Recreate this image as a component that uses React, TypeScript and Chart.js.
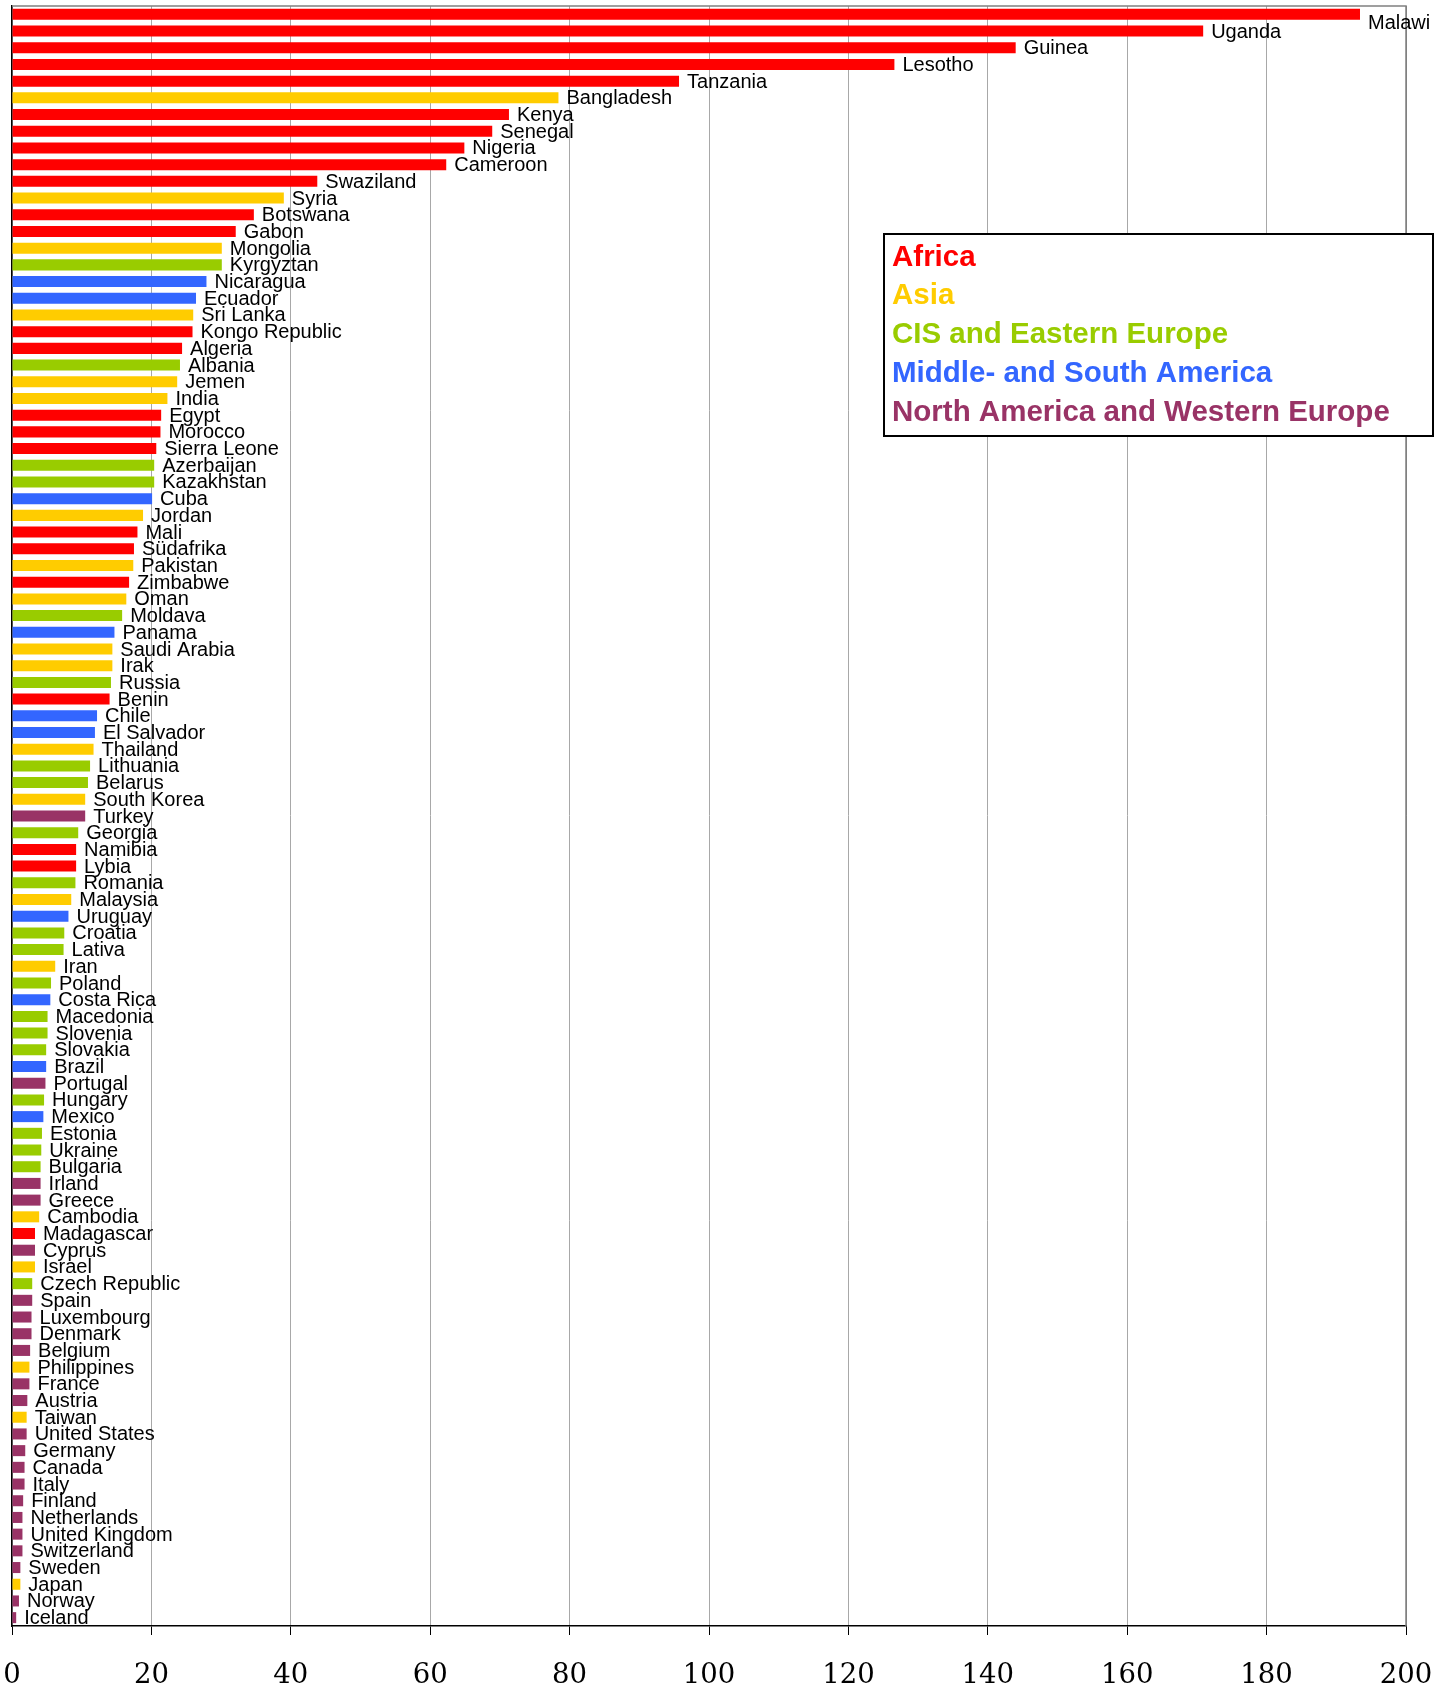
import React, { useEffect, useRef } from 'react';
import { Chart, registerables } from 'chart.js';
Chart.register(...registerables);

const countries = [
  'Malawi', 'Uganda', 'Guinea', 'Lesotho', 'Tanzania', 'Bangladesh', 'Kenya', 'Senegal', 'Nigeria', 'Cameroon',
  'Swaziland', 'Syria', 'Botswana', 'Gabon', 'Mongolia', 'Kyrgyztan', 'Nicaragua', 'Ecuador', 'Sri Lanka', 'Kongo Republic',
  'Algeria', 'Albania', 'Jemen', 'India', 'Egypt', 'Morocco', 'Sierra Leone', 'Azerbaijan', 'Kazakhstan', 'Cuba',
  'Jordan', 'Mali', 'Südafrika', 'Pakistan', 'Zimbabwe', 'Oman', 'Moldava', 'Panama', 'Saudi Arabia', 'Irak',
  'Russia', 'Benin', 'Chile', 'El Salvador', 'Thailand', 'Lithuania', 'Belarus', 'South Korea', 'Turkey', 'Georgia',
  'Namibia', 'Lybia', 'Romania', 'Malaysia', 'Uruguay', 'Croatia', 'Lativa', 'Iran', 'Poland', 'Costa Rica',
  'Macedonia', 'Slovenia', 'Slovakia', 'Brazil', 'Portugal', 'Hungary', 'Mexico', 'Estonia', 'Ukraine', 'Bulgaria',
  'Irland', 'Greece', 'Cambodia', 'Madagascar', 'Cyprus', 'Israel', 'Czech Republic', 'Spain', 'Luxembourg', 'Denmark',
  'Belgium', 'Philippines', 'France', 'Austria', 'Taiwan', 'United States', 'Germany', 'Canada', 'Italy', 'Finland',
  'Netherlands', 'United Kingdom', 'Switzerland', 'Sweden', 'Japan', 'Norway', 'Iceland',
];

const values = [
  193.4, 170.9, 144.0, 126.6, 95.7, 78.4, 71.3, 68.9, 64.9, 62.3,
  43.8, 39.0, 34.7, 32.1, 30.1, 30.1, 27.9, 26.4, 26.0, 25.9,
  24.4, 24.1, 23.7, 22.3, 21.4, 21.3, 20.7, 20.4, 20.4, 20.1,
  18.8, 18.0, 17.5, 17.4, 16.8, 16.4, 15.8, 14.7, 14.4, 14.4,
  14.2, 14.0, 12.2, 11.9, 11.7, 11.2, 10.9, 10.5, 10.5, 9.5,
  9.2, 9.2, 9.1, 8.5, 8.1, 7.5, 7.4, 6.2, 5.6, 5.5,
  5.1, 5.1, 4.9, 4.9, 4.8, 4.6, 4.5, 4.3, 4.2, 4.1,
  4.1, 4.1, 3.9, 3.3, 3.3, 3.3, 2.9, 2.9, 2.8, 2.8,
  2.6, 2.5, 2.5, 2.2, 2.1, 2.1, 1.9, 1.8, 1.8, 1.6,
  1.5, 1.5, 1.5, 1.2, 1.2, 1.0, 0.6,
];

// 0 Africa, 1 Asia, 2 CIS & Eastern Europe, 3 Middle- and South America, 4 North America & Western Europe
const regions = [
  0, 0, 0, 0, 0, 1, 0, 0, 0, 0,
  0, 1, 0, 0, 1, 2, 3, 3, 1, 0,
  0, 2, 1, 1, 0, 0, 0, 2, 2, 3,
  1, 0, 0, 1, 0, 1, 2, 3, 1, 1,
  2, 0, 3, 3, 1, 2, 2, 1, 4, 2,
  0, 0, 2, 1, 3, 2, 2, 1, 2, 3,
  2, 2, 2, 3, 4, 2, 3, 2, 2, 2,
  4, 4, 1, 0, 4, 1, 2, 4, 4, 4,
  4, 1, 4, 4, 1, 4, 4, 4, 4, 4,
  4, 4, 4, 4, 1, 4, 4,
];

const regionNames = [
  'Africa',
  'Asia',
  'CIS and Eastern Europe',
  'Middle- and South America',
  'North America and Western Europe',
];
const regionColors = ['#FF0000', '#FFCC00', '#99CC00', '#3366FF', '#993366'];

const xMin = 0;
const xMax = 200;
const xStep = 20;

const labelPlugin = {
  id: 'barLabels',
  afterDatasetsDraw(chart: any) {
    const ctx = chart.ctx;
    const meta = chart.getDatasetMeta(0);
    const right = chart.chartArea.right;
    ctx.save();
    ctx.font = '20px "Liberation Sans", Arial, sans-serif';
    ctx.fillStyle = '#000';
    ctx.textAlign = 'left';
    ctx.textBaseline = 'middle';
    meta.data.forEach((bar: any, i: number) => {
      const w = ctx.measureText(countries[i]).width;
      // labels that would run past the plot edge are nudged down, as in the original
      const dy = bar.x + 8 + w > right ? 9 : 1;
      ctx.fillText(countries[i], bar.x + 8, bar.y + dy);
    });
    ctx.restore();
  },
};

const framePlugin = {
  id: 'frame',
  beforeDatasetsDraw(chart: any) {
    const { ctx, chartArea } = chart;
    ctx.save();
    ctx.strokeStyle = '#808080';
    ctx.lineWidth = 1.5;
    ctx.beginPath();
    ctx.moveTo(chartArea.left, chartArea.top);
    ctx.lineTo(chartArea.right, chartArea.top);
    ctx.lineTo(chartArea.right, chartArea.bottom);
    ctx.stroke();
    ctx.restore();
  },
};

const legendPlugin = {
  id: 'regionLegend',
  afterDraw(chart: any) {
    const { ctx } = chart;
    const boxL = 884;
    const boxT = 234;
    const boxW = 549;
    const boxH = 202;
    ctx.save();
    ctx.fillStyle = '#fff';
    ctx.fillRect(boxL, boxT, boxW, boxH);
    ctx.strokeStyle = '#000';
    ctx.lineWidth = 2;
    ctx.strokeRect(boxL, boxT, boxW, boxH);
    ctx.font = 'bold 29.5px "Liberation Sans", Arial, sans-serif';
    ctx.textAlign = 'left';
    ctx.textBaseline = 'alphabetic';
    regionNames.forEach((name, i) => {
      ctx.fillStyle = regionColors[i];
      ctx.fillText(name, boxL + 8, boxT + 31.5 + i * 38.9);
    });
    ctx.restore();
  },
};

export default function App() {
  const ref = useRef<HTMLCanvasElement | null>(null);
  useEffect(() => {
    if (!ref.current) return;
    const chart = new Chart(ref.current, {
      type: 'bar',
      data: {
        labels: countries,
        datasets: [
          {
            data: values,
            backgroundColor: regions.map((r) => regionColors[r]),
            borderWidth: 0,
            categoryPercentage: 1,
            barPercentage: 0.66,
          },
        ],
      },
      options: {
        indexAxis: 'y',
        responsive: false,
        animation: false,
        devicePixelRatio: 1,
        layout: { padding: { left: 12, right: 44, top: 6, bottom: 0 } },
        plugins: { legend: { display: false }, tooltip: { enabled: false } },
        scales: {
          x: {
            type: 'linear',
            position: 'bottom',
            min: xMin,
            max: xMax,
            ticks: {
              stepSize: xStep,
              color: '#000',
              font: { family: '"DejaVu Serif", serif', size: 27.5 },
              padding: 24,
            },
            grid: {
              color: (c: any) => (c.tick && c.tick.value === xMax ? '#808080' : '#a8a8a8'),
              lineWidth: 1,
              tickLength: 9,
              tickColor: '#000',
              drawTicks: true,
            },
            border: { display: true, color: '#000', width: 1.5 },
            afterFit: (scale: any) => {
              scale.paddingLeft = 0;
              scale.paddingRight = 0;
              scale.height = 67;
            },
          },
          y: {
            type: 'category',
            ticks: { display: false },
            grid: { display: false, drawTicks: false },
            border: { display: true, color: '#000', width: 1.5 },
            afterFit: (scale: any) => {
              scale.paddingTop = 0;
              scale.paddingBottom = 0;
              scale.width = 0;
            },
          },
        },
      },
      plugins: [framePlugin, labelPlugin, legendPlugin],
    });
    return () => chart.destroy();
  }, []);
  return (
    <div style={{ position: 'absolute', left: 0, top: 0, width: 1450, height: 1693, background: '#fff' }}>
      <canvas ref={ref} width={1450} height={1693} style={{ display: 'block' }} />
    </div>
  );
}
